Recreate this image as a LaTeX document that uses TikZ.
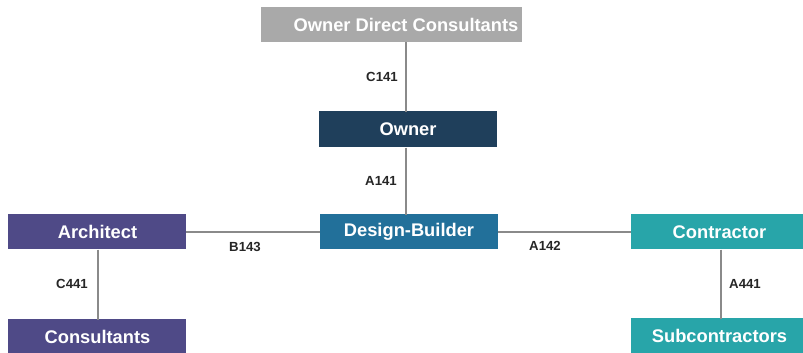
\documentclass[tikz,border=0pt]{standalone}
\usepackage{fontspec}
\setmainfont{Liberation Sans}
\begin{document}
\definecolor{odcgray}{HTML}{A9A9A9}
\definecolor{ownernavy}{HTML}{1F3F5B}
\definecolor{dbblue}{HTML}{22709A}
\definecolor{archpurple}{HTML}{4F4A87}
\definecolor{contrteal}{HTML}{28A5A9}
\definecolor{linkgray}{HTML}{8A8A8A}
\begin{tikzpicture}[x=1pt,y=-1pt,
  party/.style={inner sep=0pt, outer sep=0pt, text=white,
    font=\fontsize{18.3}{21}\selectfont\bfseries},
  link/.style={draw=linkgray, line width=1.5pt},
  doc/.style={font=\fontsize{13.2}{15}\selectfont\bfseries, text=black!85}]
\useasboundingbox (0,0) rectangle (803,353);
% parties (filled boxes with their names)
\fill[odcgray]    (261,7)   rectangle (522,42);
\fill[ownernavy]  (319,111) rectangle (497,147);
\fill[dbblue]     (320,214) rectangle (498,249);
\fill[archpurple] (8,214)   rectangle (186,249);
\fill[archpurple] (8,319)   rectangle (186,353);
\fill[contrteal]  (631,214) rectangle (803,249);
\fill[contrteal]  (631,318) rectangle (803,353);
\node[party, minimum height=35] (odc)  at (406,25)    {Owner Direct Consultants};
\node[party, minimum height=36] (own)  at (408,129.5) {Owner};
\node[party, minimum height=35] (db)   at (409,232)   {Design-Builder};
\node[party, minimum height=35] (arch) at (97.5,232)  {Architect};
\node[party, minimum height=34] (cons) at (97.5,336.5){Consultants};
\node[party, minimum height=35] (ctr)  at (719.5,232) {Contractor};
\node[party, minimum height=35] (sub)  at (719.5,336) {Subcontractors};
% agreements between the parties
\draw[link] (odc.south -| 406,0) -- (own.north -| 406,0);
\draw[link] (own.south -| 406,0) -- (db.north -| 406,0);
\draw[link] (arch.east -| 186,0) -- (db.west -| 320,0);
\draw[link] (db.east -| 498,0) -- (ctr.west -| 631,0);
\draw[link] (arch.south -| 98,0) -- (cons.north -| 98,0);
\draw[link] (ctr.south -| 721,0) -- (sub.north -| 721,0);
% agreement document labels
\node[doc] (c141) at (382,77)  {C141};
\node[doc] (a141) at (381,181) {A141};
\node[doc] (b143) at (245,247) {B143};
\node[doc] (a142) at (545,246) {A142};
\node[doc] (c441) at (72,284)  {C441};
\node[doc] (a441) at (745,284) {A441};
\end{tikzpicture}
\end{document}
